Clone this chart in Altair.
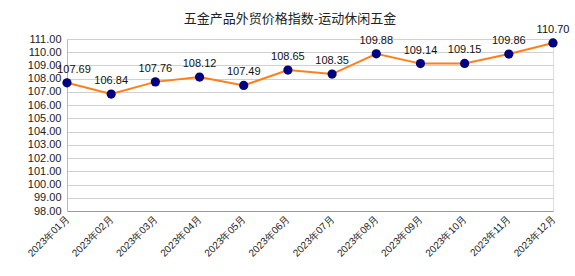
import altair as alt
import pandas as pd

months = ["2023年01月", "2023年02月", "2023年03月", "2023年04月", "2023年05月", "2023年06月",
          "2023年07月", "2023年08月", "2023年09月", "2023年10月", "2023年11月", "2023年12月"]
values = [107.69, 106.84, 107.76, 108.12, 107.49, 108.65, 108.35, 109.88, 109.14, 109.15, 109.86, 110.70]
y_ticks = [98 + i for i in range(14)]

df = pd.DataFrame({"month": months, "value": values})
df["label"] = df["value"].map(lambda v: f"{v:.2f}")

x = alt.X("month:N", sort=months, scale=alt.Scale(type="point", padding=0),
          axis=alt.Axis(title=None, labelAngle=-45, labelAlign="right", labelBaseline="middle",
                        labelFontSize=10, labelColor="#222", labelFont="Liberation Sans",
                        domainColor="#999", ticks=False, labelPadding=6, grid=False))
y = alt.Y("value:Q", scale=alt.Scale(domain=[98, 111], nice=False, zero=False),
          axis=alt.Axis(title=None, values=y_ticks, format=".2f", labelFontSize=11,
                        labelColor="#222", labelFont="Liberation Sans", ticks=False,
                        domainColor="#bbb", gridColor="#d0d0d0", labelPadding=6))

base = alt.Chart(df).encode(x=x, y=y)
line = base.mark_line(color="#ff7f1a", strokeWidth=2)
pts = base.mark_circle(color="#000080", size=85, opacity=1)
txt = base.mark_text(dy=-13, dx=alt.expr("datum.month == '2023年01月' ? 7 : 0"),
                     fontSize=11, font="Liberation Sans", color="#111").encode(text="label:N")

chart = (line + pts + txt).properties(
    width=486, height=172,
    title=alt.TitleParams("五金产品外贸价格指数-运动休闲五金", fontSize=13, fontWeight="normal",
                          font="Noto Sans CJK SC", color="#222", anchor="middle", dx=-20, offset=-2),
    autosize=alt.AutoSizeParams(type="none"),
    padding={"left": 67, "top": 39, "right": 22, "bottom": 65},
).configure_view(stroke=None).configure(background="white")

chart.save("out.html", embed_options={"renderer": "svg", "actions": False})
